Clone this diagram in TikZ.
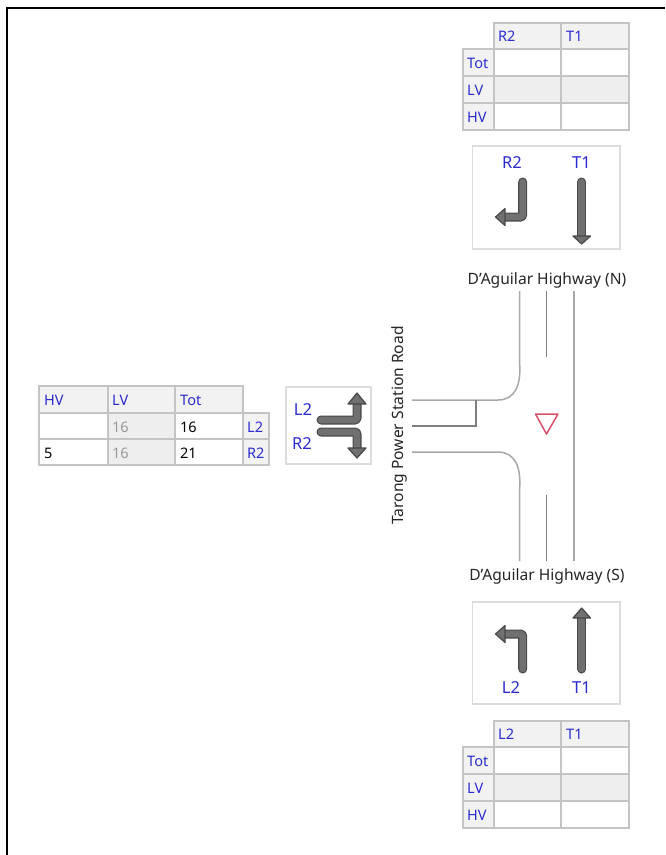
\documentclass[tikz,border=0pt]{standalone}
\usepackage{fontspec}
\setmainfont{Noto Sans}
\definecolor{grid}{HTML}{C4C4C4}
\definecolor{hdr}{HTML}{F2F2F2}
\definecolor{lvbg}{HTML}{EEEEEE}
\definecolor{lbl}{HTML}{2B2BD0}
\definecolor{roadc}{HTML}{A8A8A8}
\definecolor{panel}{HTML}{DCDCDC}
\definecolor{arrowfill}{HTML}{707070}
\definecolor{arrowedge}{HTML}{484848}
\definecolor{yield}{HTML}{D8506A}
\tikzset{
 x=1pt,y=-1pt,
 tblline/.style={draw=grid,line width=1.4pt},
 hcell/.style={tblline,fill=hdr},
 wcell/.style={tblline,fill=white},
 gcell/.style={tblline,fill=lvbg},
 tl/.style={font=\fontsize{14.5}{16}\selectfont,text=lbl,anchor=west,inner sep=0pt},
 vl/.style={font=\fontsize{14.5}{16}\selectfont,text=black,anchor=west,inner sep=0pt},
 gl/.style={font=\fontsize{14.5}{16}\selectfont,text=gray!80,anchor=west,inner sep=0pt},
 al/.style={font=\fontsize{16.5}{18}\selectfont,text=lbl,inner sep=0pt},
 pnl/.style={draw=panel,line width=1.2pt,fill=white},
 road/.style={draw=roadc,line width=1.5pt},
 roadd/.style={draw=roadc!75!black,line width=1.5pt},
 rn/.style={font=\fontsize{15.6}{18}\selectfont,text=black!85,inner sep=0pt},
 lane/.style={line cap=round,line join=round,rounded corners=1.5pt,draw=arrowedge,line width=9pt},
 lanein/.style={line cap=round,line join=round,rounded corners=1.5pt,draw=arrowfill,line width=6.6pt},
 head/.style={draw=arrowedge,fill=arrowfill,line width=1.2pt,line join=round},
}
\newcommand{\vtable}[7]{%
 \begin{scope}[yshift=-#1pt]
 \draw[hcell] (494,0) rectangle (561,26);
 \draw[hcell] (561,0) rectangle (629,26);
 \draw[hcell] (463,26) rectangle (494,53);
 \draw[hcell] (463,53) rectangle (494,80);
 \draw[hcell] (463,80) rectangle (494,107);
 \draw[wcell] (494,26) rectangle (561,53);
 \draw[wcell] (561,26) rectangle (629,53);
 \draw[gcell] (494,53) rectangle (561,80);
 \draw[gcell] (561,53) rectangle (629,80);
 \draw[wcell] (494,80) rectangle (561,107);
 \draw[wcell] (561,80) rectangle (629,107);
 \node[tl] (#3) at (498,13) {#6};
 \node[tl] (#4) at (566,13) {#7};
 \node[tl] at (467,40) {Tot};
 \node[tl] at (467,67) {LV};
 \node[tl] at (467,94) {HV};
 \end{scope}}
\begin{document}
\begin{tikzpicture}
\useasboundingbox (0,0) rectangle (665,855);
\fill[white] (0,0) rectangle (665,855);
\draw[black,line width=2pt] (6.5,855) -- (6.5,8) -- (665,8);
\vtable{23}{}{a1}{a2}{}{R2}{T1}
\vtable{721}{}{b1}{b2}{}{L2}{T1}
% left table
\draw[hcell] (39,386) rectangle (108,413);
\draw[hcell] (108,386) rectangle (175,413);
\draw[hcell] (175,386) rectangle (243,413);
\draw[wcell] (39,413) rectangle (108,439);
\draw[gcell] (108,413) rectangle (175,439);
\draw[wcell] (175,413) rectangle (243,439);
\draw[hcell] (243,413) rectangle (269,439);
\draw[wcell] (39,439) rectangle (108,465);
\draw[gcell] (108,439) rectangle (175,465);
\draw[wcell] (175,439) rectangle (243,465);
\draw[hcell] (243,439) rectangle (269,465);
\node[tl] (h1) at (44,400) {HV};
\node[tl] (h2) at (112,400) {LV};
\node[tl] (h3) at (180,400) {Tot};
\node[gl] (g1) at (112,427) {16};
\node[vl] (v1) at (180,427) {16};
\node[tl] (r1) at (247,427) {L2};
\node[vl] (v0) at (44,453) {5};
\node[gl] (g2) at (112,453) {16};
\node[vl] (v2) at (180,453) {21};
\node[tl] (r2) at (247,453) {R2};
% panels
\draw[pnl] (472.5,146) rectangle (620,249);
\draw[pnl] (472.5,602) rectangle (620,704);
\draw[pnl] (286,387) rectangle (371,464);
% top panel arrows
\node[al] (p1) at (512,163) {R2};
\node[al] (p2) at (581.5,163) {T1};
\draw[lane] (522.7,182) -- (522.7,217) -- (505,217);
\draw[lanein] (522.7,182) -- (522.7,217) -- (505,217);
\draw[head] (505,208.5) -- (495.5,217) -- (505,225.5) -- cycle;
\draw[lane] (581.7,182) -- (581.7,236);
\draw[lanein] (581.7,182) -- (581.7,236);
\draw[head] (573,236) -- (581.7,244) -- (590.5,236) -- cycle;
% bottom panel arrows
\node[al] (p3) at (511,688) {L2};
\node[al] (p4) at (581.5,688) {T1};
\draw[lane] (522.7,669) -- (522.7,634) -- (505,634);
\draw[lanein] (522.7,669) -- (522.7,634) -- (505,634);
\draw[head] (505,625.5) -- (495.5,634) -- (505,642.5) -- cycle;
\draw[lane] (581.7,669) -- (581.7,618);
\draw[lanein] (581.7,669) -- (581.7,618);
\draw[head] (573,618) -- (581.7,608) -- (590.5,618) -- cycle;
% left panel arrows
\node[al] (p5) at (303,410) {L2};
\node[al] (p6) at (302,444) {R2};
\draw[lane] (321,420) -- (357,420) -- (357,404);
\draw[lanein] (321,420) -- (357,420) -- (357,404);
\draw[head] (348,404) -- (357,393) -- (366,404) -- cycle;
\draw[lane] (321,432) -- (357,432) -- (357,448);
\draw[lanein] (321,432) -- (357,432) -- (357,448);
\draw[head] (348,448) -- (357,458) -- (366,448) -- cycle;
% road
\node[rn] (north) at (547,280) {D'Aguilar Highway (N)};
\node[rn] (south) at (547,576) {D'Aguilar Highway (S)};
\node[rn,rotate=90] (west) at (399,425.5) {Tarong Power Station Road};
\coordinate (n1) at (519.5,291);
\coordinate (n2) at (546.5,291);
\coordinate (n3) at (574,291);
\coordinate (s1) at (519.5,561);
\coordinate (s2) at (546.5,561);
\coordinate (s3) at (574,561);
\coordinate (w1) at (412,400);
\coordinate (w2) at (412,426);
\coordinate (w3) at (412,452);
\draw[road] (n1) -- (519.5,362) .. controls (521.5,385) and (515,400) .. (498,400) -- (w1);
\draw[road] (s1) -- (519.5,490) .. controls (521.5,467) and (515,452) .. (498,452) -- (w3);
\draw[road] (n3) -- (s3);
\draw[roadd] (n2) -- (546.5,357);
\draw[roadd] (s2) -- (546.5,495);
\draw[roadd] (w2) -- (476,426) -- (476,400);
\draw[draw=yield,line width=1.5pt,line join=round] (535.5,414) -- (558,414) -- (546.5,434) -- cycle;
\end{tikzpicture}
\end{document}
